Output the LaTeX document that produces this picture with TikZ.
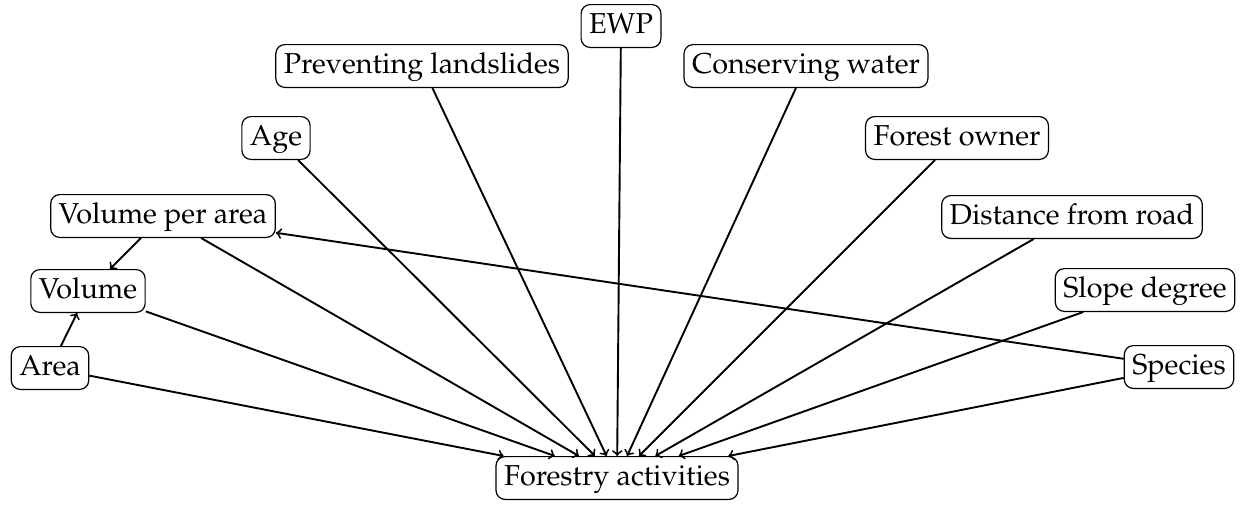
\documentclass[tikz,border=0pt]{standalone}
\usepackage[T1]{fontenc}
\usepackage{mathpazo}
\begin{document}
\begin{tikzpicture}[x=0.5pt,y=-0.5pt,
  box/.style={draw,rounded corners=4.5pt,line width=0.6pt,font=\fontsize{14.4}{17}\selectfont,
    inner xsep=4pt,inner ysep=3.8pt,text height=10.4pt,text depth=3.4pt},
  link/.style={->,line width=0.95pt}]
\useasboundingbox (0,0) rectangle (1248,504);
\node[box] (ewp) at (621,26) {EWP};
\node[box] (prev) at (422,66) {Preventing landslides};
\node[box] (cons) at (806,66) {Conserving water};
\node[box] (age) at (276,138) {Age};
\node[box] (owner) at (957,138) {Forest owner};
\node[box] (vpa) at (163,216) {Volume per area};
\node[box] (dist) at (1072,217) {Distance from road};
\node[box] (vol) at (88,291) {Volume};
\node[box] (slope) at (1145,290) {Slope degree};
\node[box] (area) at (50,368) {Area};
\node[box] (species) at (1179,367) {Species};
\node[box] (fa) at (617,478) {Forestry activities};
\foreach \s in {area,vol,vpa,age,prev,ewp,cons,owner,dist,slope,species}
  \draw[link] (\s) -- (fa);
\draw[link] (vpa) -- (vol);
\draw[link] (area) -- (vol);
\draw[link] (species) -- (vpa);
\end{tikzpicture}
\end{document}
